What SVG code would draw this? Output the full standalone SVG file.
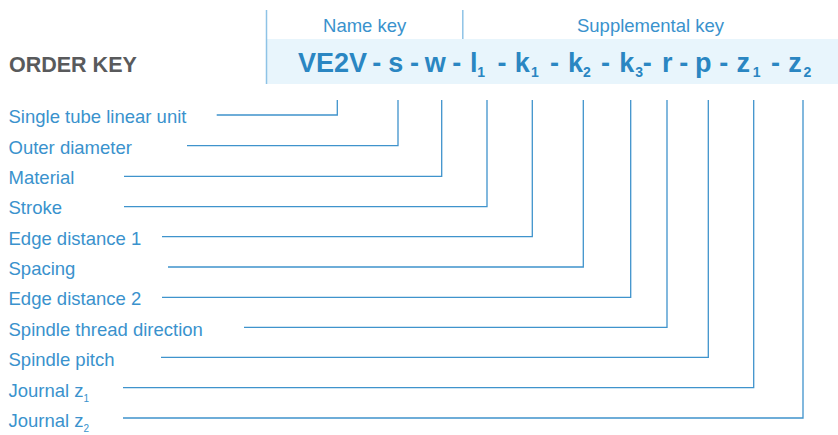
<svg xmlns="http://www.w3.org/2000/svg" width="838" height="435" viewBox="0 0 838 435">
<style>
.lbl{font-family:"Liberation Sans",Arial,sans-serif;font-size:18.5px;fill:#3a92cd}
.sub{font-size:10px}
.key{font-family:"Liberation Sans",Arial,sans-serif;font-weight:bold;font-size:27px;fill:#2a86c2;text-anchor:middle}
.ks{font-size:14px}
.hdr{font-family:"Liberation Sans",Arial,sans-serif;font-size:18.5px;fill:#3a92cd;text-anchor:middle}
.conn{fill:none;stroke:#3f93cc;stroke-width:1.3}
.frame{stroke:#8ec3e6;stroke-width:1.5}
</style>
<rect width="838" height="435" fill="#ffffff"/>
<g id="header">
  <rect x="266" y="39" width="572" height="45" fill="#e8f5fc"/>
  <line class="frame" x1="266.5" y1="10" x2="266.5" y2="84"/>
  <line class="frame" x1="462.8" y1="10" x2="462.8" y2="39"/>
  <text class="hdr" x="364.7" y="31.7">Name key</text>
  <text class="hdr" x="650.5" y="31.7">Supplemental key</text>
  <text x="9" y="72.3" font-family="'Liberation Sans',Arial,sans-serif" font-weight="bold" font-size="21.5" fill="#595a5c">ORDER KEY</text>
</g>
<g id="order-key">
  <text class="key" y="71.7"><tspan x="332.5">VE2V</tspan><tspan x="376.7">-</tspan><tspan x="395.8">s</tspan><tspan x="414.5">-</tspan><tspan x="435.3">w</tspan><tspan x="456.8">-</tspan><tspan x="473.8">l</tspan><tspan class="ks" x="481.2" y="76.7">1</tspan><tspan x="502" y="71.7">-</tspan><tspan x="522.2">k</tspan><tspan class="ks" x="535" y="76.7">1</tspan><tspan x="554.5" y="71.7">-</tspan><tspan x="575.5">k</tspan><tspan class="ks" x="587" y="76.7">2</tspan><tspan x="605.5" y="71.7">-</tspan><tspan x="626.7">k</tspan><tspan class="ks" x="639.2" y="76.7">3</tspan><tspan x="647.2" y="71.7">-</tspan><tspan x="667.2">r</tspan><tspan x="683.8">-</tspan><tspan x="703.3">p</tspan><tspan x="723.8">-</tspan><tspan x="743.3">z</tspan><tspan class="ks" x="756.7" y="76.7">1</tspan><tspan x="775.5" y="71.7">-</tspan><tspan x="795">z</tspan><tspan class="ks" x="807.5" y="76.7">2</tspan></text>
</g>
<g id="labels">
  <text id="n1" class="lbl" x="8.5" y="123.3">Single tube linear unit</text>
  <text id="n2" class="lbl" x="8.5" y="153.7">Outer diameter</text>
  <text id="n3" class="lbl" x="8.5" y="184">Material</text>
  <text id="n4" class="lbl" x="8.5" y="214.4">Stroke</text>
  <text id="n5" class="lbl" x="8.5" y="244.7">Edge distance 1</text>
  <text id="n6" class="lbl" x="8.5" y="275">Spacing</text>
  <text id="n7" class="lbl" x="8.5" y="305.4">Edge distance 2</text>
  <text id="n8" class="lbl" x="8.5" y="335.8">Spindle thread direction</text>
  <text id="n9" class="lbl" x="8.5" y="366.1">Spindle pitch</text>
  <text id="n10" class="lbl" x="8.5" y="396.5">Journal z<tspan class="sub" dy="5">1</tspan></text>
  <text id="n11" class="lbl" x="8.5" y="426.8">Journal z<tspan class="sub" dy="5">2</tspan></text>
</g>
<g id="connectors">
  <polyline class="conn" points="216.7,115 337.3,115 337.3,100"/>
  <polyline class="conn" points="187,145.7 398,145.7 398,100"/>
  <polyline class="conn" points="124,176.3 441.7,176.3 441.7,100"/>
  <polyline class="conn" points="124,206.7 487,206.7 487,100"/>
  <polyline class="conn" points="162,236.7 532.3,236.7 532.3,100"/>
  <polyline class="conn" points="168,267 583.3,267 583.3,100"/>
  <polyline class="conn" points="162,297.3 630.7,297.3 630.7,100"/>
  <polyline class="conn" points="244,327.3 667,327.3 667,100"/>
  <polyline class="conn" points="161,357.3 708.3,357.3 708.3,100"/>
  <polyline class="conn" points="123,387.7 753.7,387.7 753.7,100"/>
  <polyline class="conn" points="123,418 803,418 803,100"/>
</g>
</svg>
